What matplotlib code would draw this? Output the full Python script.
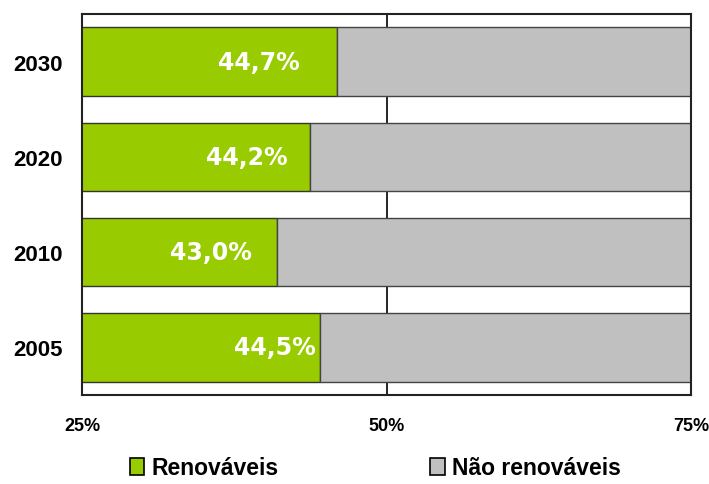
import numpy as np
import matplotlib
matplotlib.use('Agg')
import matplotlib.pyplot as plt
from matplotlib.patches import Patch

# data (bottom to top)
years = ['2005', '2010', '2020', '2030']
renovaveis = [44.5, 41.0, 43.7, 45.9]          # green bar ends, as drawn
nao_renovaveis = [100 - r for r in renovaveis]  # remainder of 100%
value_labels = ['44,5%', '43,0%', '44,2%', '44,7%']
label_pos = [40.8, 35.55, 38.5, 39.55]          # where the labels sit on the x scale
xticks = [25, 50, 75]
xtick_labels = ['25%', '50%', '75%']

GREEN = '#99CC00'
GREY = '#C0C0C0'

fig = plt.figure(figsize=(7.09, 4.85), dpi=100)
ax = fig.add_axes([82/709, 1 - 396/485, (691 - 82)/709, (396 - 15)/485])

y = np.arange(len(years))
ax.barh(y, renovaveis, height=0.72, color=GREEN, edgecolor='#333333', linewidth=1.0, zorder=2)
ax.barh(y, nao_renovaveis, left=renovaveis, height=0.72, color=GREY,
        edgecolor='#444444', linewidth=1.0, zorder=2)

for yi, txt, xp in zip(y, value_labels, label_pos):
    ax.text(xp, yi, txt, ha='center', va='center', color='white',
            fontsize=17, fontweight='bold', family='DejaVu Sans', zorder=3)

ax.set_xlim(25, 75)
ax.set_ylim(-0.5, len(years) - 0.5)
ax.set_xticks(xticks)
ax.set_xticklabels(xtick_labels)
ax.set_yticks(y)
ax.set_yticklabels(years)
ax.tick_params(axis='x', length=0, pad=16, labelsize=13)
ax.tick_params(axis='y', length=0, pad=14, labelsize=16)
for lab in ax.get_xticklabels() + ax.get_yticklabels():
    lab.set_fontweight('bold')
    lab.set_family('Liberation Sans')

ax.axvline(50, color='black', linewidth=1.2, zorder=1)
for s in ax.spines.values():
    s.set_linewidth(1.5)
    s.set_color('#222222')

handles = [Patch(facecolor=GREEN, edgecolor='black', linewidth=1.2),
           Patch(facecolor=GREY, edgecolor='black', linewidth=1.2)]
fig.legend(handles, ['Renováveis', 'Não renováveis'], loc='center',
           bbox_to_anchor=(375/709, 1 - 469/485), ncol=2, frameon=False,
           prop={'family': 'Liberation Sans', 'weight': 'bold', 'size': 16.5},
           handlelength=0.65, handleheight=0.7, handletextpad=0.3,
           columnspacing=6.6, borderpad=0)

fig.savefig('out.png', dpi=100, facecolor='white')
